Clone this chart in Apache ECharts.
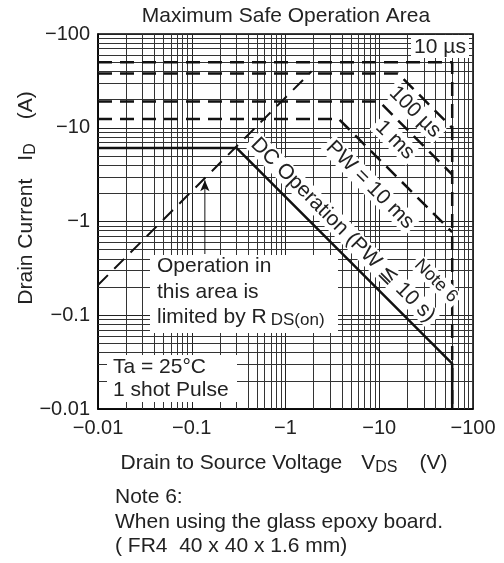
<!DOCTYPE html>
<html><head><meta charset="utf-8">
<script src="https://cdn.jsdelivr.net/npm/echarts@6/dist/echarts.min.js"></script>
<style>html,body{margin:0;padding:0;background:#fff}#c{width:504px;height:563px}</style>
</head><body><div id="c"></div>
<script>
// ---- tick labels ----
const xTickValues = [0.01, 0.1, 1, 10, 100];
const xTickLabels = ['\u22120.01', '\u22120.1', '\u22121', '\u221210', '\u2212100'];
const yTickValues = [0.01, 0.1, 1, 10, 100];
const yTickLabels = ['\u22120.01', '\u22120.1', '\u22121', '\u221210', '\u2212100'];
const gridDecades = [0.01, 0.1, 1, 10];
const gridMultipliers = [2, 3, 4, 5, 6, 7, 8, 9];

// ---- SOA curves (|VDS| in V, |ID| in A) ----
const vds10us = [0.01, 60, 60];
const id10us = [50, 50, 0.01];
const vds100us = [0.01, 15.8, 60];
const id100us = [38, 38, 10];
const vds1ms = [0.01, 10, 60];
const id1ms = [19, 19, 3.17];
const vds10ms = [0.01, 3.7, 60];
const id10ms = [12.4, 12.4, 0.77];
const vdsDC = [0.01, 0.3, 60, 60];
const idDC = [6.1, 6.1, 0.0305, 0.01];
const vdsRds = [0.01, 1.9];
const idRds = [0.21, 40];
const arrowVds = [0.138, 0.138];
const arrowId = [0.45, 2.75];

const FF = "'Liberation Sans', Arial, sans-serif";
const TC = '#222';
const zip = (a, b) => a.map((v, i) => [v, b[i]]);
const lab = (vals, labs) => v => {
  const i = vals.findIndex(t => Math.abs(Math.log10(t) - Math.log10(v)) < 1e-6);
  return i >= 0 ? labs[i] : '';
};

const minorX = [], minorY = [];
gridDecades.forEach(d => gridMultipliers.forEach(m => {
  minorX.push({ xAxis: +(d * m).toPrecision(4) });
  minorY.push({ yAxis: +(d * m).toPrecision(4) });
}));

const dashed = { color: '#111', width: 2.5, type: [14, 8] };
const curve = (name, x, y, ls) => ({
  name, type: 'line', data: zip(x, y), symbol: 'none', z: 3,
  lineStyle: ls, silent: true, animation: false
});

const chart = echarts.init(document.getElementById('c'), null, { renderer: 'canvas' });

const rotLabel = (text, x, y, size) => ({
  type: 'text', x, y, rotation: -Math.PI / 4, z: 60,
  style: { text, fontSize: size || 21, fontFamily: FF, fill: TC, align: 'center', verticalAlign: 'middle',
    backgroundColor: '#fff', padding: [0, 3] }
});
const txt = (text, x, y, align, size) => ({
  type: 'text', x, y, z: 60,
  style: { text, fontSize: size || 21, fontFamily: FF, fill: TC, align: align || 'left', verticalAlign: 'middle' }
});
const box = (x, y, w, h) => ({ type: 'rect', z: 50, shape: { x, y, width: w, height: h }, style: { fill: '#fff' } });

chart.setOption({
  animation: false,
  backgroundColor: '#fff',
  grid: { left: 98, right: 31, top: 34, bottom: 154, show: true, borderColor: '#000', borderWidth: 1.5 },
  xAxis: {
    type: 'log', logBase: 10, min: 0.01, max: 100, splitNumber: 4,
    axisLine: { show: true, lineStyle: { color: '#000', width: 1.5 } },
    axisTick: { show: false },
    axisLabel: { formatter: lab(xTickValues, xTickLabels), fontSize: 20, fontFamily: FF, color: TC, margin: 9,
      showMinLabel: true, showMaxLabel: true, hideOverlap: false },
    splitLine: { show: true, lineStyle: { color: '#222', width: 1 } }
  },
  yAxis: {
    type: 'log', logBase: 10, min: 0.01, max: 100, splitNumber: 4,
    axisLine: { show: true, lineStyle: { color: '#000', width: 1.5 } },
    axisTick: { show: false },
    axisLabel: { formatter: lab(yTickValues, yTickLabels), fontSize: 20, fontFamily: FF, color: TC, margin: 8,
      showMinLabel: true, showMaxLabel: true, hideOverlap: false },
    splitLine: { show: true, lineStyle: { color: '#222', width: 1 } }
  },
  series: [
    {
      name: 'grid', type: 'line', data: [], silent: true, z: 1,
      markLine: {
        silent: true, z: 1, symbol: ['none', 'none'], label: { show: false },
        lineStyle: { color: '#333', width: 1, type: 'solid' },
        emphasis: { disabled: true },
        data: minorX.concat(minorY), animation: false
      }
    },
    curve('10 µs', vds10us, id10us, dashed),
    curve('100 µs', vds100us, id100us, dashed),
    curve('1 ms', vds1ms, id1ms, dashed),
    curve('10 ms', vds10ms, id10ms, dashed),
    curve('DC', vdsDC, idDC, { color: '#111', width: 2.5, type: 'solid' }),
    curve('RDS(on) limit', vdsRds, idRds, { color: '#111', width: 2, type: [14, 9] }),
    {
      name: 'arrow', type: 'line', z: 3, silent: true, showSymbol: true, symbol: 'none',
      lineStyle: { color: '#111', width: 1 }, itemStyle: { color: '#111' },
      data: [arrowVds[0] && [arrowVds[0], arrowId[0]],
        { value: [arrowVds[1], arrowId[1]], symbol: 'arrow', symbolSize: [7, 11] }]
    }
  ],
  graphic: {
    elements: [
      txt('Maximum Safe Operation Area', 286, 16, 'center'),
      box(411, 35, 58, 23),
      txt('10 \u00b5s', 440, 47, 'center'),
      rotLabel('100 \u00b5s', 415, 112),
      rotLabel('1 ms', 395, 140),
      rotLabel('PW = 10 ms', 370, 185),
      rotLabel('DC Operation (PW \u2266 10 s)', 343, 230),
      rotLabel('Note 6', 436, 281, 18),
      box(150, 255, 188, 78),
      txt('Operation in', 157, 266),
      txt('this area is', 157, 292),
      {
        type: 'text', x: 157, y: 317, z: 60,
        style: {
          text: '{a|limited by R}{g|}{s|DS(on)}', align: 'left', verticalAlign: 'middle',
          rich: {
            a: { fontSize: 21, fontFamily: FF, fill: TC, lineHeight: 24 },
            g: { width: 4 },
            s: { fontSize: 17, fontFamily: FF, fill: TC, lineHeight: 16, verticalAlign: 'bottom' }
          }
        }
      },
      box(107, 355, 130, 47),
      txt('Ta = 25\u00b0C', 113, 367),
      txt('1 shot Pulse', 113, 390),
      {
        type: 'text', x: 26, y: 198, rotation: Math.PI / 2, z: 60,
        style: {
          text: '{a|Drain Current}{g|}{a|I}{s|D}{g2|}{a|(A)}', align: 'center', verticalAlign: 'middle',
          rich: {
            a: { fontSize: 21, fontFamily: FF, fill: TC, lineHeight: 26 },
            g: { width: 18 }, g2: { width: 24 },
            s: { fontSize: 16, fontFamily: FF, fill: TC, lineHeight: 14, verticalAlign: 'bottom' }
          }
        }
      },
      {
        type: 'text', x: 284, y: 463, z: 60,
        style: {
          text: '{a|Drain to Source Voltage}{g|}{a|V}{s|DS}{g2|}{a|(V)}', align: 'center', verticalAlign: 'middle',
          rich: {
            a: { fontSize: 21, fontFamily: FF, fill: TC, lineHeight: 26 },
            g: { width: 19 }, g2: { width: 22 },
            s: { fontSize: 16, fontFamily: FF, fill: TC, lineHeight: 14, verticalAlign: 'bottom' }
          }
        }
      },
      txt('Note 6:', 115, 497),
      txt('When using the glass epoxy board.', 115, 522),
      txt('( FR4  40 x 40 x 1.6 mm)', 115, 546)
    ]
  }
});
</script></body></html>
